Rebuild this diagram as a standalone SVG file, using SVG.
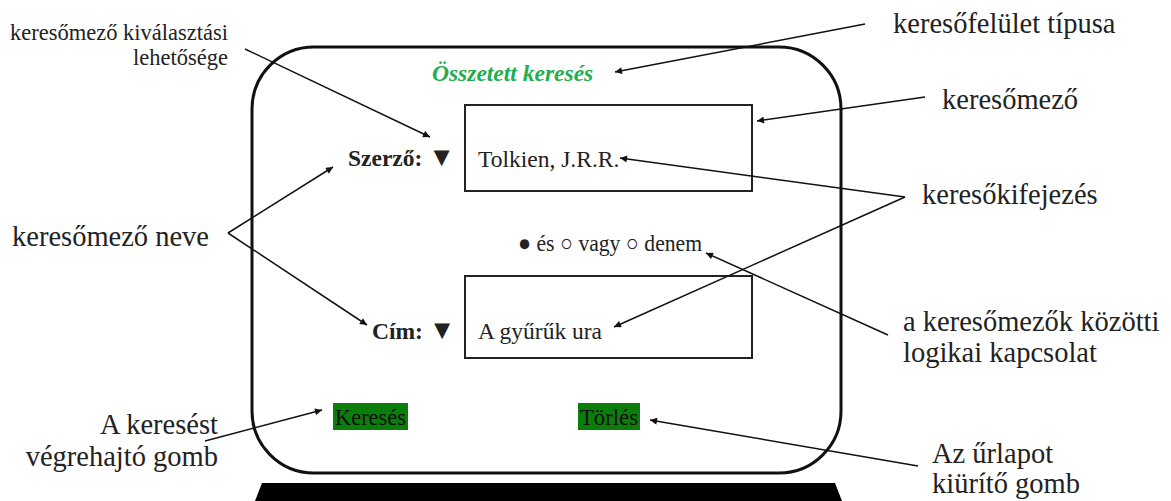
<svg xmlns="http://www.w3.org/2000/svg" width="1171" height="501" viewBox="0 0 1171 501">
  <defs>
    <marker id="arrow" viewBox="0 0 10 10" refX="10" refY="5" markerWidth="10" markerHeight="7" markerUnits="userSpaceOnUse" orient="auto">
      <path d="M0,0 L10,5 L0,10 z" fill="#111"/>
    </marker>
    <style>
      text { font-family: "Liberation Serif", "Times New Roman", serif; fill: #222; }
      .lbl { font-size: 28.5px; }
      .small { font-size: 22.5px; }
      .field { font-size: 23.5px; }
      .bold { font-weight: bold; }
      .box { fill: none; stroke: #222; stroke-width: 2; }
      .btn { fill: #0a7d0a; }
      .conn { stroke: #111; stroke-width: 1.5; fill: none; }
    </style>
  </defs>
  <rect width="1171" height="501" fill="#fff"/>

  <!-- monitor frame and stand -->
  <g id="monitor">
    <rect x="252" y="47" width="589" height="426" rx="62" ry="62" fill="none" stroke="#111" stroke-width="3"/>
    <path d="M262,483 L835,483 L842,501 L255,501 z" fill="#000"/>
  </g>

  <g id="title">
    <text x="432" y="81" font-size="23.5" font-weight="bold" font-style="italic" style="fill:#1fae4e">Összetett keresés</text>
  </g>

  <g id="field-author">
    <text x="348" y="166" class="field bold" font-size="24">Szerző: <tspan font-size="27">▼</tspan></text>
    <rect x="465" y="105" width="287" height="86" class="box"/>
    <text x="478" y="167" class="field">Tolkien, J.R.R.</text>
  </g>

  <g id="logic">
    <text x="518" y="251" class="field" textLength="184" lengthAdjust="spacingAndGlyphs">● és ○ vagy ○ denem</text>
  </g>

  <g id="field-title">
    <text x="372" y="339" class="field bold" font-size="24">Cím: <tspan font-size="27">▼</tspan></text>
    <rect x="465" y="276" width="287" height="82" class="box"/>
    <text x="478" y="339" class="field">A gyűrűk ura</text>
  </g>

  <g id="btn-search">
    <rect x="333" y="403" width="75" height="27" class="btn"/>
    <text x="370.5" y="425" class="field" text-anchor="middle" textLength="71" lengthAdjust="spacingAndGlyphs" style="fill:#111">Keresés</text>
  </g>

  <g id="btn-clear">
    <rect x="578" y="403" width="62" height="27" class="btn"/>
    <text x="609" y="425" class="field" text-anchor="middle" textLength="58" lengthAdjust="spacingAndGlyphs" style="fill:#111">Törlés</text>
  </g>

  <!-- annotation labels -->
  <g id="lbl-select">
    <text x="228" y="40" class="small" text-anchor="end">keresőmező kiválasztási</text>
    <text x="228" y="65" class="small" text-anchor="end">lehetősége</text>
  </g>
  <g id="lbl-type"><text x="893" y="33" class="lbl">keresőfelület típusa</text></g>
  <g id="lbl-field"><text x="942" y="109" class="lbl">keresőmező</text></g>
  <g id="lbl-expr"><text x="922" y="204" class="lbl">keresőkifejezés</text></g>
  <g id="lbl-name"><text x="12" y="246" class="lbl">keresőmező neve</text></g>
  <g id="lbl-logic">
    <text x="903" y="331" class="lbl">a keresőmezők közötti</text>
    <text x="903" y="362" class="lbl">logikai kapcsolat</text>
  </g>
  <g id="lbl-exec">
    <text x="218" y="434" class="lbl" text-anchor="end">A keresést</text>
    <text x="218" y="466" class="lbl" text-anchor="end">végrehajtó gomb</text>
  </g>
  <g id="lbl-reset">
    <text x="932" y="463" class="lbl">Az űrlapot</text>
    <text x="932" y="493" class="lbl">kiürítő gomb</text>
  </g>

  <g id="connectors">
    <line x1="245" y1="49" x2="430" y2="137" class="conn" marker-end="url(#arrow)"/>
    <line x1="865" y1="24" x2="615" y2="72" class="conn" marker-end="url(#arrow)"/>
    <line x1="925" y1="97" x2="757" y2="121" class="conn" marker-end="url(#arrow)"/>
    <line x1="905" y1="197" x2="620" y2="158" class="conn" marker-end="url(#arrow)"/>
    <line x1="905" y1="197" x2="614" y2="327" class="conn" marker-end="url(#arrow)"/>
    <line x1="228" y1="233" x2="333" y2="167" class="conn" marker-end="url(#arrow)"/>
    <line x1="228" y1="233" x2="367" y2="325" class="conn" marker-end="url(#arrow)"/>
    <line x1="888" y1="335" x2="706" y2="253" class="conn" marker-end="url(#arrow)"/>
    <line x1="205" y1="441" x2="322" y2="410" class="conn" marker-end="url(#arrow)"/>
    <line x1="918" y1="466" x2="650" y2="420" class="conn" marker-end="url(#arrow)"/>
  </g>
</svg>
